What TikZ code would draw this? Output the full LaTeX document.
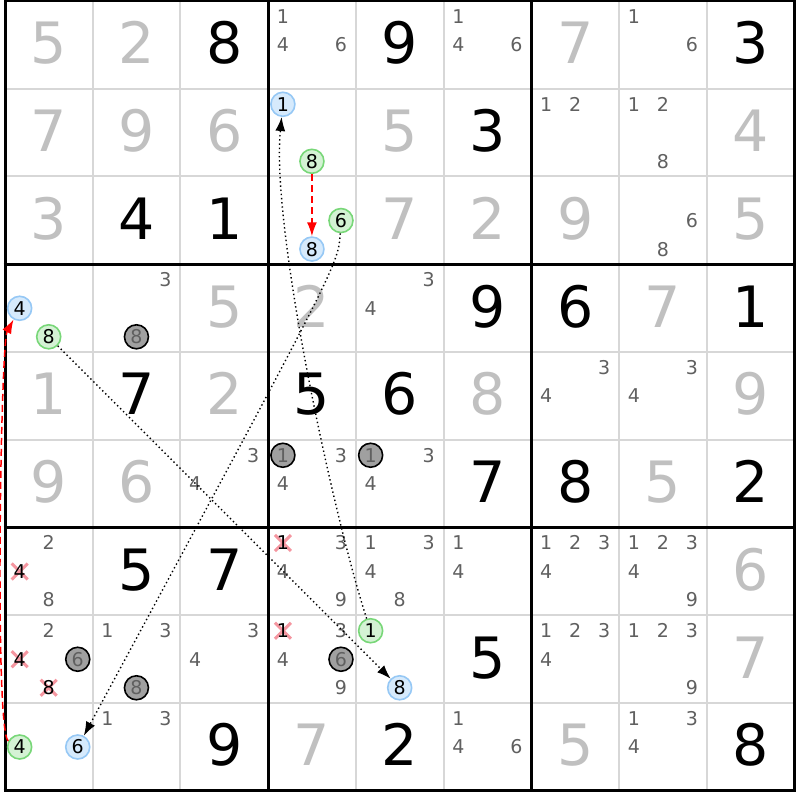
\documentclass[tikz,border=0pt]{standalone}
\usepackage{fontspec}
\setmainfont{DejaVu Sans}
\usetikzlibrary{arrows.meta}
\definecolor{solvedgray}{RGB}{192,192,192}
\definecolor{candgray}{RGB}{96,96,96}
\definecolor{thingrid}{RGB}{215,215,215}
\definecolor{bluefill}{RGB}{214,234,252}
\definecolor{blueline}{RGB}{150,200,245}
\definecolor{greenfill}{RGB}{212,242,212}
\definecolor{greenline}{RGB}{120,215,120}
\definecolor{grayfill}{RGB}{160,160,160}
\definecolor{xpink}{RGB}{245,150,160}

\tikzset{
  given/.style={font=\fontsize{57}{57}\selectfont,text height=41.6pt,text depth=0pt,inner sep=0pt},
  solved/.style={given,text=solvedgray},
  cand/.style={font=\fontsize{19}{19}\selectfont,text height=13.9pt,text depth=0pt,inner sep=0pt,text=candgray},
  spot/.style={cand,circle,minimum size=24pt,line width=1.6pt},
  onblue/.style={spot,text=black,fill=bluefill,draw=blueline},
  ongreen/.style={spot,text=black,fill=greenfill,draw=greenline},
  ongray/.style={spot,fill=grayfill,draw=black},
  xmark/.style={xpink,line width=3pt},
  link/.style={line width=1.4pt,dash pattern=on 1.4pt off 2.8pt,-{Latex[length=14pt,width=10pt]}},
  redlink/.style={red,line width=1.5pt,dash pattern=on 7pt off 4pt,-{Latex[length=14pt,width=10pt]}}
}

\newcommand{\given}[3]{\node[given] (n#1#2) at (#2-0.5,#1-0.52) {#3};}
\newcommand{\sol}[3]{\node[solved] (n#1#2) at (#2-0.5,#1-0.52) {#3};}
\newcommand{\setpos}[3]{%
  \pgfmathsetmacro\cx{#2-1+0.167+0.331*mod(#3-1,3)}%
  \pgfmathsetmacro\cy{#1-1+0.177+0.325*floor((#3-1)/3)}}
\newcommand{\cands}[3]{\foreach \d in {#3}{\setpos{#1}{#2}{\d}\node[cand] (c#1#2\d) at (\cx,\cy) {\d};}}
\newcommand{\hl}[5]{\setpos{#2}{#3}{#4}\node[#1] (#5) at (\cx,\cy) {#4};}
\newcommand{\elim}[3]{\setpos{#1}{#2}{#3}%
  \draw[xmark] (\cx,\cy) +(-8pt,-8pt) -- +(8pt,8pt) +(-8pt,8pt) -- +(8pt,-8pt);
  \node[cand,text=black] (x#1#2#3) at (\cx,\cy) {#3};}

\begin{document}
\begin{tikzpicture}[x=87.75pt,y=-87.75pt]
\useasboundingbox (-0.057,-0.0114) rectangle (9.060,9.106);
\fill[white] (-0.057,-0.0114) rectangle (9.060,9.106);

% grid
\foreach \i in {1,2,4,5,7,8} {
  \draw[thingrid,line width=2pt] (\i,0) -- (\i,9);
  \draw[thingrid,line width=2pt] (0,\i) -- (9,\i);
}
\foreach \i in {0,3,6,9} {
  \draw[line width=3pt] (\i,-0.017) -- (\i,9.017);
  \draw[line width=3pt] (-0.017,\i) -- (9.017,\i);
}

% row 1
\sol{1}{1}{5} \sol{1}{2}{2} \given{1}{3}{8}
\cands{1}{4}{1,4,6} \given{1}{5}{9} \cands{1}{6}{1,4,6}
\sol{1}{7}{7} \cands{1}{8}{1,6} \given{1}{9}{3}
% row 2
\sol{2}{1}{7} \sol{2}{2}{9} \sol{2}{3}{6}
\hl{onblue}{2}{4}{1}{b1} \hl{ongreen}{2}{4}{8}{g8a}
\sol{2}{5}{5} \given{2}{6}{3}
\cands{2}{7}{1,2} \cands{2}{8}{1,2,8} \sol{2}{9}{4}
% row 3
\sol{3}{1}{3} \given{3}{2}{4} \given{3}{3}{1}
\hl{ongreen}{3}{4}{6}{g6} \hl{onblue}{3}{4}{8}{b8a}
\sol{3}{5}{7} \sol{3}{6}{2} \sol{3}{7}{9} \cands{3}{8}{6,8} \sol{3}{9}{5}
% row 4
\hl{onblue}{4}{1}{4}{b4} \hl{ongreen}{4}{1}{8}{g8b}
\cands{4}{2}{3} \hl{ongray}{4}{2}{8}{k8a}
\sol{4}{3}{5} \sol{4}{4}{2} \cands{4}{5}{3,4}
\given{4}{6}{9} \given{4}{7}{6} \sol{4}{8}{7} \given{4}{9}{1}
% row 5
\sol{5}{1}{1} \given{5}{2}{7} \sol{5}{3}{2} \given{5}{4}{5} \given{5}{5}{6}
\sol{5}{6}{8} \cands{5}{7}{3,4} \cands{5}{8}{3,4} \sol{5}{9}{9}
% row 6
\sol{6}{1}{9} \sol{6}{2}{6} \cands{6}{3}{3,4}
\hl{ongray}{6}{4}{1}{k1a} \cands{6}{4}{3,4}
\hl{ongray}{6}{5}{1}{k1b} \cands{6}{5}{3,4}
\given{6}{6}{7} \given{6}{7}{8} \sol{6}{8}{5} \given{6}{9}{2}
% row 7
\cands{7}{1}{2,8} \elim{7}{1}{4}
\given{7}{2}{5} \given{7}{3}{7}
\elim{7}{4}{1} \cands{7}{4}{3,4,9}
\cands{7}{5}{1,3,4,8} \cands{7}{6}{1,4}
\cands{7}{7}{1,2,3,4} \cands{7}{8}{1,2,3,4,9} \sol{7}{9}{6}
% row 8
\cands{8}{1}{2} \elim{8}{1}{4} \elim{8}{1}{8} \hl{ongray}{8}{1}{6}{k6a}
\cands{8}{2}{1,3} \hl{ongray}{8}{2}{8}{k8b}
\cands{8}{3}{3,4}
\elim{8}{4}{1} \cands{8}{4}{3,4,9} \hl{ongray}{8}{4}{6}{k6b}
\hl{ongreen}{8}{5}{1}{g1} \hl{onblue}{8}{5}{8}{b8b}
\given{8}{6}{5} \cands{8}{7}{1,2,3,4} \cands{8}{8}{1,2,3,9} \sol{8}{9}{7}
% row 9
\hl{ongreen}{9}{1}{4}{g4} \hl{onblue}{9}{1}{6}{b6}
\cands{9}{2}{1,3} \given{9}{3}{9} \sol{9}{4}{7} \given{9}{5}{2}
\cands{9}{6}{1,4,6} \sol{9}{7}{5} \cands{9}{8}{1,3,4} \given{9}{9}{8}

% links
\draw[redlink] (g8a) -- (b8a);
\draw[redlink] (g4) .. controls (-0.12,8.35) and (-0.05,3.9) .. (b4);
\draw[link] (g6) .. controls (3.8,3.0) .. (b6);
\draw[link] (g8b) -- (b8b);
\draw[link] (g1) .. controls (3.75,5.9) and (3.03,2.6) .. (b1);
\end{tikzpicture}
\end{document}
